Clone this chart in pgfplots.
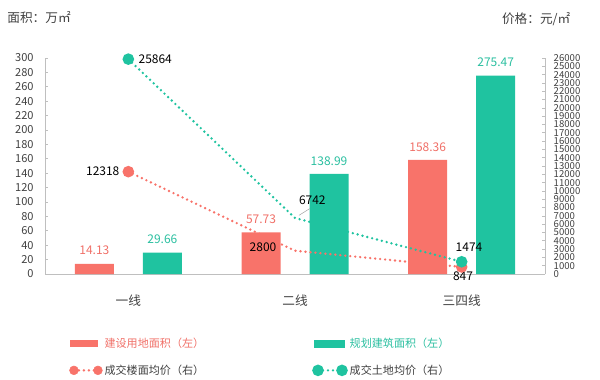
\documentclass[border=0pt]{standalone}
\usepackage{pgfplots}
\pgfplotsset{compat=1.18}
\usepackage{fontspec}
\setmainfont{Noto Sans CJK SC}
\definecolor{cred}{HTML}{F8736A}
\definecolor{cteal}{HTML}{1FC3A0}
\definecolor{tred}{HTML}{F07068}
\definecolor{tteal}{HTML}{2BBFA0}
\definecolor{txt}{HTML}{404040}
\definecolor{axc}{HTML}{BFBFBF}
\pgfplotsset{
  redbarleg/.style={legend image code/.code={\fill[cred] (0pt,-2.6pt) rectangle (21pt,2.6pt);}},
  tealbarleg/.style={legend image code/.code={\fill[cteal] (0pt,-2.6pt) rectangle (22.5pt,2.6pt);}},
  redlineleg/.style={legend image code/.code={\draw[solid,cred,line width=2pt,line cap=round,dash pattern=on 0pt off 3.75pt] (3pt,0pt) -- (21pt,0pt);\fill[solid,cred] (3pt,0pt) circle (3.3pt);\fill[solid,cred] (21pt,0pt) circle (3.3pt);}},
  teallineleg/.style={legend image code/.code={\draw[solid,cteal,line width=2pt,line cap=round,dash pattern=on 0pt off 3.75pt] (3pt,0pt) -- (21pt,0pt);\fill[solid,cteal] (3pt,0pt) circle (3.3pt);\fill[solid,cteal] (21pt,0pt) circle (3.3pt);}},
}
\begin{document}
\begin{tikzpicture}
\useasboundingbox (0,0) rectangle (450pt,284.25pt);
\begin{axis}[
  at={(33.75pt,78.75pt)}, anchor=south west,
  scale only axis, width=375pt, height=162pt,
  xmin=-0.5, xmax=2.5, ymin=0, ymax=300,
  axis x line*=bottom, axis y line*=left,
  axis line style={axc, line width=0.6pt},
  x axis line style={-}, y axis line style={-},
  xtick={0,1,2}, xticklabels={一线,二线,三四线},
  xtick style={draw=none},
  xticklabel style={font=\fontsize{9.5pt}{11pt}\selectfont, text=txt, yshift=-9.5pt},
  ytick distance=20,
  ytick style={axc, line width=0.5pt},
  tick align=inside, major tick length=2.25pt,
  yticklabel style={font=\fontsize{8.3pt}{9pt}\selectfont, text=txt, xshift=-5pt},
  /pgf/number format/assume math mode=true,
  ybar, bar width=29.25pt,
  nodes near coords={\pgfmathprintnumber[fixed,fixed zerofill,precision=2,assume math mode=true]{\pgfplotspointmeta}},
  nodes near coords style={font=\fontsize{9pt}{10pt}\selectfont, anchor=south, yshift=3pt},
  legend style={at={(0.048,-0.285)}, anchor=north west, draw=none, fill=none,
    font=\fontsize{8.3pt}{9pt}\selectfont, row sep=8.5pt, inner sep=0pt,
    nodes={inner sep=1.5pt}},
  legend cell align=left,
  clip=false,
]
\addplot[draw=none, fill=cred, bar shift=-25.5pt, nodes near coords style={text=tred}, redbarleg] coordinates {(0,14.13) (1,57.73) (2,158.36)};
\addlegendentry{\textcolor{tred}{建设用地面积（左）}}
\addplot[draw=none, fill=cteal, bar shift=25.5pt, nodes near coords style={text=tteal}, forget plot] coordinates {(0,29.66) (1,138.99) (2,275.47)};
\addlegendimage{redlineleg}
\addlegendentry{\textcolor{txt}{成交楼面均价（右）}}
\end{axis}
\begin{axis}[
  at={(33.75pt,78.75pt)}, anchor=south west,
  scale only axis, width=375pt, height=162pt,
  xmin=-0.5, xmax=2.5, ymin=0, ymax=26000,
  axis x line=none, axis y line*=right,
  axis line style={axc, line width=0.6pt}, y axis line style={-},
  ytick distance=1000, scaled y ticks=false,
  ytick style={axc, line width=0.5pt},
  tick align=inside, major tick length=2.25pt,
  yticklabel style={font=\fontsize{7.2pt}{7pt}\selectfont, text=txt, xshift=3pt, anchor=west},
  /pgf/number format/assume math mode=true,
  /pgf/number format/.cd, fixed, set thousands separator={}, /pgfplots/.cd,
  legend style={at={(0.534,-0.285)}, anchor=north west, draw=none, fill=none,
    font=\fontsize{8.3pt}{9pt}\selectfont, row sep=8.5pt, inner sep=0pt,
    nodes={inner sep=1.5pt}},
  legend cell align=left,
  clip=false,
]
\addlegendimage{tealbarleg}
\addlegendentry{\textcolor{tteal}{规划建筑面积（左）}}
\addplot[cred, line width=2pt, line cap=round, dash pattern=on 0pt off 3.75pt,
  mark=*, mark size=3.3pt, mark options={solid, fill=cred, draw=cred}, mark indices={1,3}, forget plot]
  coordinates {(0,12318) (1,2800) (2,847)};
\addplot[cteal, line width=2pt, line cap=round, dash pattern=on 0pt off 3.75pt,
  mark=*, mark size=3.3pt, mark options={solid, fill=cteal, draw=cteal}, mark indices={1,3}, teallineleg]
  coordinates {(0,25864) (1,6742) (2,1474)};
\addlegendentry{\textcolor{txt}{成交土地均价（右）}}
\draw[gray!70, line width=0.4pt] (axis cs:1,6742) ++(3pt,2pt) -- ++(8pt,5pt);
\begin{scope}[every node/.style={font=\fontsize{9pt}{10pt}\selectfont, text=black, inner sep=0.5pt}]
\node[anchor=west] at ([xshift=7pt]axis cs:0,25864) {25864};
\node[anchor=east] at ([xshift=-6pt]axis cs:0,12318) {12318};
\node at ([xshift=13pt,yshift=13.5pt]axis cs:1,6742) {6742};
\node at ([xshift=-24pt,yshift=3pt]axis cs:1,2800) {2800};
\node at ([xshift=5.5pt,yshift=11pt]axis cs:2,1474) {1474};
\node at ([xshift=1pt,yshift=-7pt]axis cs:2,847) {847};
\end{scope}
\end{axis}
\node[anchor=west, font=\fontsize{9.5pt}{11pt}\selectfont, text=txt] at (2pt,271.5pt) {面积：万㎡};
\node[anchor=west, font=\fontsize{9.5pt}{11pt}\selectfont, text=txt] at (373pt,270pt) {价格：元/㎡};
\end{tikzpicture}
\end{document}
